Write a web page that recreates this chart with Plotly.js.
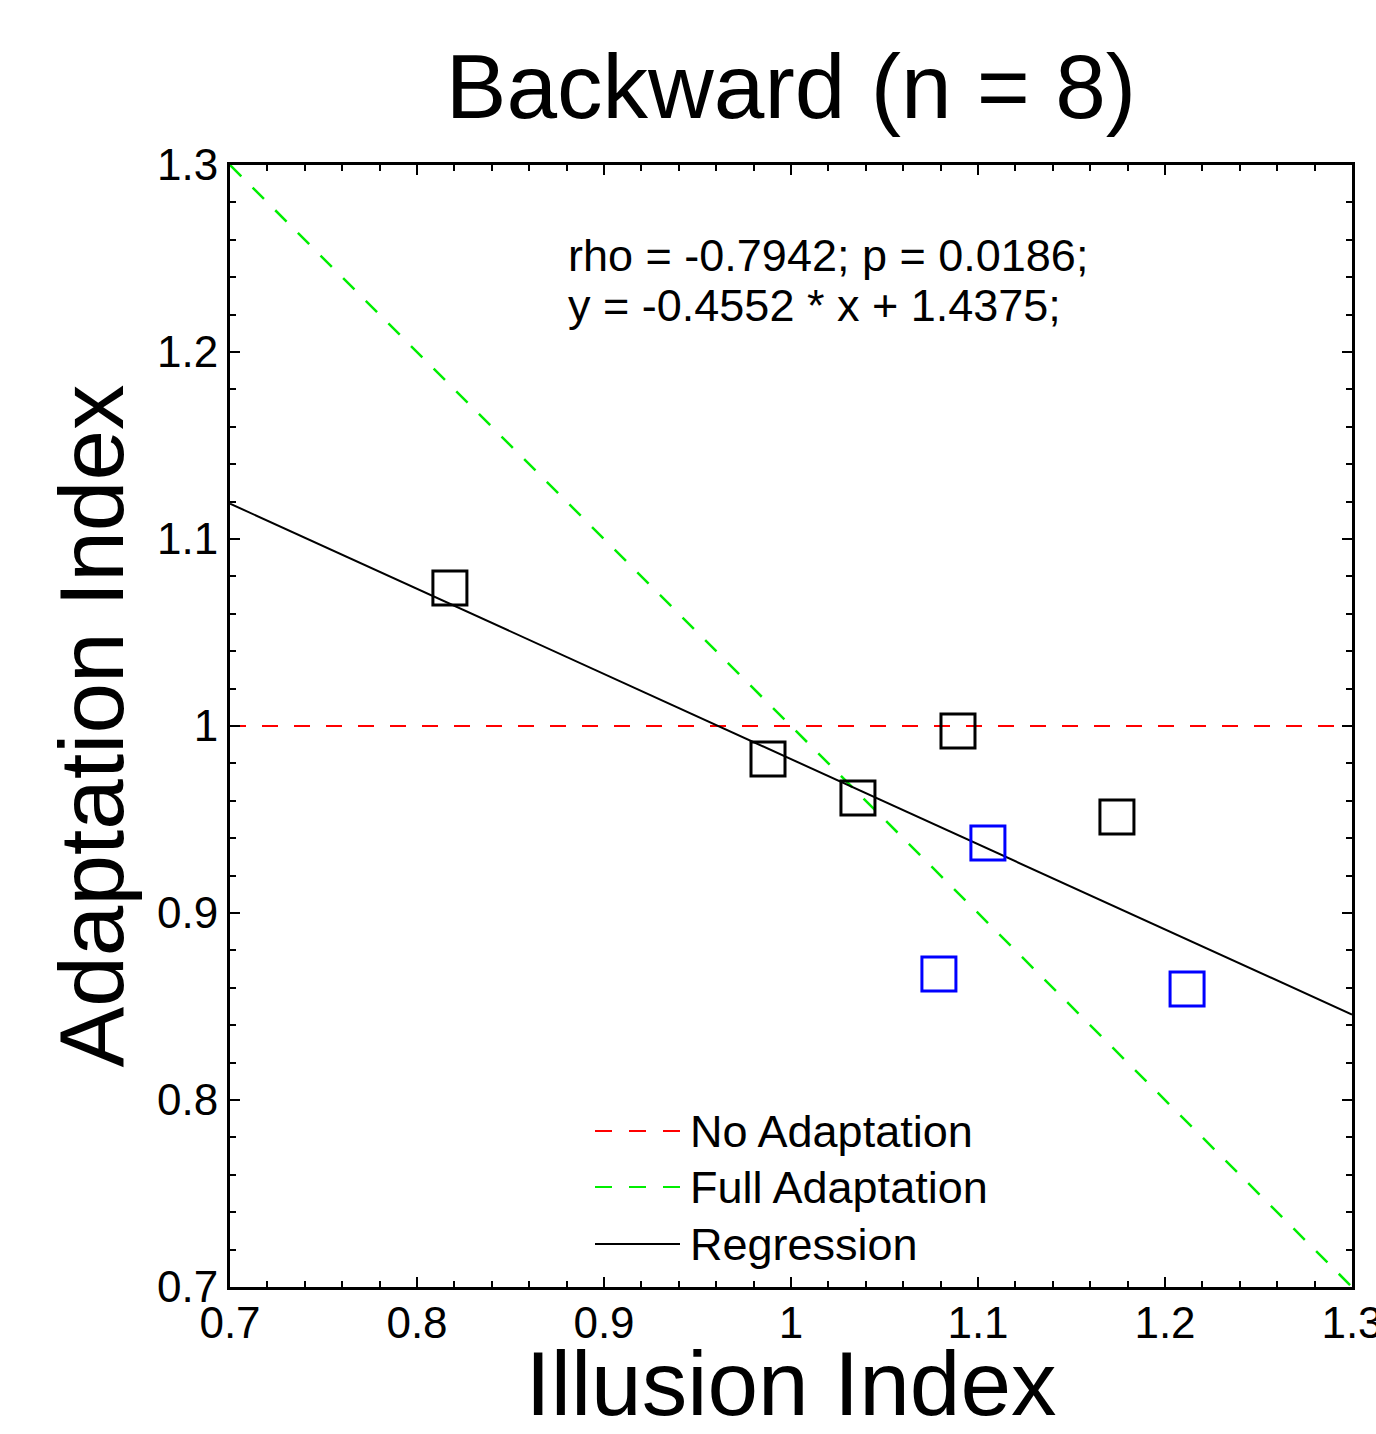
<!DOCTYPE html>
<html>
<head>
<meta charset="utf-8">
<script src="https://cdn.plot.ly/plotly-3.0.1.min.js"></script>
<style>html,body{margin:0;padding:0;background:#fff;}#chart{width:1376px;height:1434px;}</style>
</head>
<body>
<div id="chart"></div>
<script>
// Data
var blackX = [0.8176, 0.9877, 1.0358, 1.0893, 1.1743];
var blackY = [1.0738, 0.9824, 0.9615, 0.9973, 0.9513];
var blueX = [1.1053, 1.0791, 1.2118];
var blueY = [0.9374, 0.8674, 0.8594];
var lineX = [0.7, 1.3];
var noAdaptY = [1.0, 1.0];
var fullAdaptY = [1.3, 0.7];
var regressionY = [1.1189, 0.8457];
var tickVals = [0.7, 0.8, 0.9, 1.0, 1.1, 1.2, 1.3];
var tickText = ['0.7', '0.8', '0.9', '1', '1.1', '1.2', '1.3'];
var statsLines = ['rho = -0.7942; p = 0.0186;', 'y = -0.4552 * x + 1.4375;'];
var legendNames = ['No Adaptation', 'Full Adaptation', 'Regression'];
var legendColors = ['#ff0000', '#00ee00', '#000000'];
var legendDash = ['17px,17px', '17px,17px', 'solid'];

var FONT = 'Liberation Sans, Arial, sans-serif';

var traces = [
  {x: lineX, y: noAdaptY, mode: 'lines', name: legendNames[0], showlegend: false,
   line: {color: legendColors[0], width: 2, dash: '16px,16px'}},
  {x: lineX, y: fullAdaptY, mode: 'lines', name: legendNames[1], showlegend: false,
   line: {color: legendColors[1], width: 2.5, dash: '16px,16px'}},
  {x: lineX, y: regressionY, mode: 'lines', name: legendNames[2], showlegend: false,
   line: {color: legendColors[2], width: 2}},
  {x: blackX, y: blackY, mode: 'markers', showlegend: false,
   marker: {symbol: 'square-open', size: 34, color: '#000000', line: {width: 3, color: '#000000'}}},
  {x: blueX, y: blueY, mode: 'markers', showlegend: false,
   marker: {symbol: 'square-open', size: 34, color: '#0000ff', line: {width: 3, color: '#0000ff'}}}
];

var axisCommon = {
  tickmode: 'array', tickvals: tickVals, ticktext: tickText,
  ticks: 'inside', ticklen: 10, tickwidth: 2.5, tickcolor: '#000',
  minor: {dtick: 0.02, ticks: 'inside', ticklen: 6, tickwidth: 2, tickcolor: '#000', showgrid: false},
  showline: true, linecolor: '#000', linewidth: 3, mirror: 'allticks',
  showgrid: false, zeroline: false, ticklabeloverflow: 'allow',
  tickfont: {family: FONT, size: 44, color: '#000'},
  automargin: false
};

// manual legend (long dashed samples like the reference)
var legRowsPx = [1131, 1187, 1244];
var shapes = [], annotations = [];
for (var i = 0; i < legendNames.length; i++) {
  var yp = (1287 - legRowsPx[i]) / 1122;
  shapes.push({type: 'line', xref: 'paper', yref: 'paper',
    x0: (595 - 230) / 1122, x1: (680 - 230) / 1122, y0: yp, y1: yp,
    line: {color: legendColors[i], width: 2, dash: legendDash[i]}});
  annotations.push({text: legendNames[i], xref: 'paper', yref: 'paper',
    x: (688 - 230) / 1122, y: yp, xanchor: 'left', yanchor: 'middle',
    showarrow: false, font: {family: FONT, size: 45, color: '#000'}});
}
var statsRowsPx = [256, 306];
for (var j = 0; j < statsLines.length; j++) {
  annotations.push({text: statsLines[j], xref: 'paper', yref: 'paper',
    x: (566 - 230) / 1122, y: (1287 - statsRowsPx[j]) / 1122, xanchor: 'left', yanchor: 'middle',
    showarrow: false, font: {family: FONT, size: 45, color: '#000'}});
}

var layout = {
  width: 1376, height: 1434,
  margin: {l: 230, r: 24, t: 165, b: 147},
  paper_bgcolor: '#fff', plot_bgcolor: '#fff',
  font: {family: FONT, color: '#000'},
  showlegend: false,
  title: {text: 'Backward (n = 8)', font: {family: FONT, size: 91, color: '#000'},
          x: 0.5, xref: 'paper', y: 0.94, yref: 'container', yanchor: 'middle'},
  xaxis: Object.assign({}, axisCommon, {
    range: [0.7, 1.3], ticklabelstandoff: -5,
    title: {text: 'Illusion Index', font: {family: FONT, size: 91, color: '#000'}, standoff: 0}
  }),
  yaxis: Object.assign({}, axisCommon, {
    range: [0.7, 1.3],
    title: {text: 'Adaptation Index', font: {family: FONT, size: 91, color: '#000'}, standoff: 4}
  }),
  shapes: shapes,
  annotations: annotations
};

Plotly.newPlot('chart', traces, layout, {displayModeBar: false, staticPlot: true});
</script>
</body>
</html>
